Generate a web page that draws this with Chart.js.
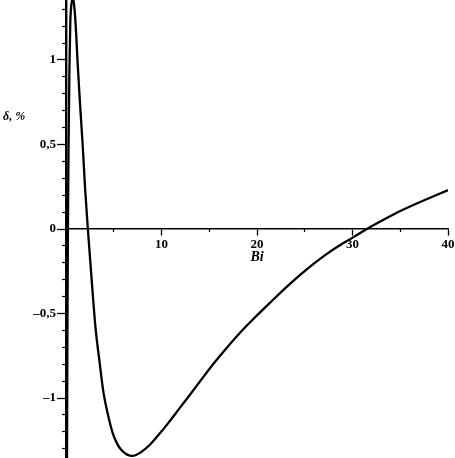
<!DOCTYPE html>
<html><head><meta charset="utf-8">
<script src="https://cdn.jsdelivr.net/npm/chart.js@4/dist/chart.umd.min.js"></script>
<style>html,body{margin:0;padding:0;background:#fff}#wrap{width:455px;height:458px}</style>
</head><body><div id="wrap"><canvas id="c"></canvas></div>
<script>
const biValues = [0.10,0.15,0.20,0.27,0.36,0.45,0.55,0.68,0.82,0.95,1.08,1.20,1.48,1.76,2.00,2.29,2.70,3.10,3.50,3.93,4.40,4.90,5.35,5.80,6.40,6.95,7.80,8.76,9.70,10.68,11.90,12.96,14.00,15.40,16.80,18.20,19.80,21.35,23.45,25.20,26.95,28.50,30.10,31.50,33.20,35.00,37.50,40.00];
const deltaValues = [-1.45,-0.60,0.00,0.50,0.95,1.22,1.32,1.36,1.34,1.26,1.14,1.00,0.73,0.485,0.24,0.00,-0.31,-0.59,-0.78,-0.97,-1.10,-1.209,-1.27,-1.308,-1.335,-1.343,-1.322,-1.278,-1.218,-1.15,-1.06,-0.982,-0.904,-0.80,-0.705,-0.615,-0.522,-0.437,-0.325,-0.239,-0.162,-0.102,-0.048,0.00,0.053,0.106,0.170,0.23];
const xMajorTicks = [10,20,30,40];
const xMinorTicks = [5,15,25,35];
const yMajorTicks = [-1,-0.5,0,0.5,1];
const yMajorLabels = ['\u20131','\u20130,5','0','0,5','1'];
const yMinorTicks = [-1.3,-1.2,-1.1,-0.9,-0.8,-0.7,-0.6,-0.4,-0.3,-0.2,-0.1,0.1,0.2,0.3,0.4,0.6,0.7,0.8,0.9,1.1,1.2,1.3];
const xTitle = 'Bi';
const yTitle = '\u03b4, %';

const X_MIN = 0, X_MAX = 40, Y_MIN = -1.355, Y_MAX = 1.355;
const tickFont = {family:'Liberation Serif', size:13, weight:'bold'};

function noPad(s){ s.paddingLeft = 0; s.paddingRight = 0; s.paddingTop = 0; s.paddingBottom = 0; }
function zeroW(s){ s.width = 0; noPad(s); }
function zeroH(s){ s.height = 0; noPad(s); }

const titles = {
  id:'titles',
  afterDraw(chart){
    const ctx = chart.ctx;
    ctx.save();
    ctx.fillStyle = '#000';
    ctx.textBaseline = 'middle';
    ctx.textAlign = 'left';
    ctx.font = 'italic bold 12px "Liberation Serif"';
    ctx.fillText(yTitle, 3, 117);
    ctx.textAlign = 'center';
    ctx.font = 'italic bold 14px "Liberation Serif"';
    ctx.fillText(xTitle, 257, 257);
    ctx.restore();
  }
};

new Chart(document.getElementById('c'), {
  type:'line',
  data:{datasets:[{
    data: biValues.map((x,i)=>({x:x, y:deltaValues[i]})),
    borderColor:'#000', borderWidth:2.3, pointRadius:0, fill:false,
    cubicInterpolationMode:'monotone', xAxisID:'x', yAxisID:'y'
  }]},
  plugins:[titles],
  options:{
    responsive:true, maintainAspectRatio:false, animation:false,
    layout:{padding:{left:0,right:7,top:0,bottom:0}},
    plugins:{legend:{display:false}, tooltip:{enabled:false}},
    scales:{
      x:{type:'linear', min:X_MIN, max:X_MAX, position:{y:0},
        afterFit:zeroH,
        afterBuildTicks:s=>{s.ticks = xMajorTicks.map(v=>({value:v}));},
        grid:{drawOnChartArea:false, tickLength:6, tickColor:'#000', tickWidth:1.3},
        border:{display:true, color:'#000', width:1.6},
        ticks:{color:'#000', font:tickFont, padding:2, maxRotation:0, autoSkip:false}
      },
      x2:{type:'linear', min:X_MIN, max:X_MAX, position:{y:0},
        afterFit:zeroH,
        afterBuildTicks:s=>{s.ticks = xMinorTicks.map(v=>({value:v}));},
        grid:{drawOnChartArea:false, tickLength:3, tickColor:'#000', tickWidth:1.2},
        border:{display:false},
        ticks:{display:false}
      },
      yL:{type:'linear', min:Y_MIN, max:Y_MAX, position:'left',
        afterFit:s=>{s.width = 66; noPad(s);},
        afterBuildTicks:s=>{s.ticks = yMajorTicks.map(v=>({value:v}));},
        grid:{display:false, drawTicks:false},
        border:{display:false},
        ticks:{color:'#000', font:tickFont, padding:10, autoSkip:false,
          callback:(v)=>{const i = yMajorTicks.indexOf(v); return i>=0 ? yMajorLabels[i] : '';}}
      },
      y:{type:'linear', min:Y_MIN, max:Y_MAX, position:{x:0},
        afterFit:zeroW,
        afterBuildTicks:s=>{s.ticks = yMajorTicks.map(v=>({value:v}));},
        grid:{drawOnChartArea:false, tickLength:8, tickColor:'#000', tickWidth:1.3},
        border:{display:true, color:'#000', width:2.4},
        ticks:{display:false}
      },
      y2:{type:'linear', min:Y_MIN, max:Y_MAX, position:{x:0},
        afterFit:zeroW,
        afterBuildTicks:s=>{s.ticks = yMinorTicks.map(v=>({value:v}));},
        grid:{drawOnChartArea:false, tickLength:4, tickColor:'#000', tickWidth:1.2},
        border:{display:false},
        ticks:{display:false}
      }
    }
  }
});
</script>
</body></html>
